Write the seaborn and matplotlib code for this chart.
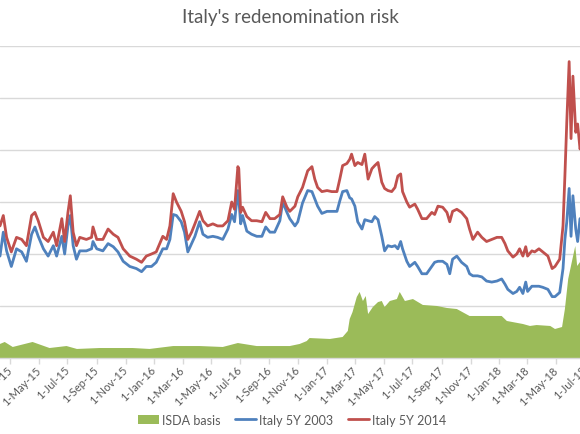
import matplotlib
matplotlib.use("Agg")
import matplotlib.pyplot as plt
import matplotlib.dates as mdates
from matplotlib.patches import Patch
from matplotlib.lines import Line2D
import pandas as pd
import seaborn as sns

# ---------------- data ----------------
line_dates = [
    "2015-02-08", "2015-02-15", "2015-02-22", "2015-03-04", "2015-03-15", "2015-03-26",
    "2015-04-05", "2015-04-16", "2015-04-23", "2015-04-30", "2015-05-11", "2015-05-21",
    "2015-06-01", "2015-06-08", "2015-06-19", "2015-06-25", "2015-07-02", "2015-07-07",
    "2015-07-13", "2015-07-20", "2015-07-27", "2015-08-10", "2015-08-21", "2015-08-24",
    "2015-09-01", "2015-09-14", "2015-09-25", "2015-10-06", "2015-10-16", "2015-10-27",
    "2015-11-10", "2015-11-24", "2015-12-05", "2015-12-15", "2015-12-26", "2016-01-05",
    "2016-01-19", "2016-01-27", "2016-02-03", "2016-02-10", "2016-02-17", "2016-02-27",
    "2016-03-05", "2016-03-12", "2016-03-20", "2016-03-27", "2016-04-06", "2016-04-13",
    "2016-04-23", "2016-05-04", "2016-05-14", "2016-05-25", "2016-06-05", "2016-06-13",
    "2016-06-19", "2016-06-26", "2016-06-28", "2016-07-02", "2016-07-06", "2016-07-15",
    "2016-07-25", "2016-08-05", "2016-08-16", "2016-08-24", "2016-09-02", "2016-09-12",
    "2016-09-23", "2016-09-29", "2016-10-08", "2016-10-14", "2016-10-25", "2016-10-31",
    "2016-11-10", "2016-11-21", "2016-11-30", "2016-12-06", "2016-12-12", "2016-12-21",
    "2017-01-01", "2017-01-11", "2017-01-22", "2017-01-28", "2017-02-03", "2017-02-12",
    "2017-02-18", "2017-02-22", "2017-03-01", "2017-03-07", "2017-03-16", "2017-03-22",
    "2017-03-29", "2017-04-06", "2017-04-12", "2017-04-19", "2017-04-27", "2017-05-03",
    "2017-05-10", "2017-05-18", "2017-05-25", "2017-05-31", "2017-06-06", "2017-06-10",
    "2017-06-19", "2017-06-25", "2017-07-06", "2017-07-12", "2017-07-21", "2017-07-31",
    "2017-08-11", "2017-08-17", "2017-08-24", "2017-09-03", "2017-09-12", "2017-09-18",
    "2017-09-24", "2017-10-03", "2017-10-13", "2017-10-24", "2017-10-30", "2017-11-06",
    "2017-11-16", "2017-11-25", "2017-12-05", "2017-12-16", "2017-12-27", "2018-01-06",
    "2018-01-13", "2018-01-19", "2018-01-30", "2018-02-07", "2018-02-13", "2018-02-20",
    "2018-02-26", "2018-03-02", "2018-03-11", "2018-03-17", "2018-03-26", "2018-04-03",
    "2018-04-14", "2018-04-23", "2018-04-29", "2018-05-09", "2018-05-16", "2018-05-20",
    "2018-05-24", "2018-05-29", "2018-06-02", "2018-06-06", "2018-06-12", "2018-06-16",
    "2018-06-21", "2018-06-27",
]

italy_5y_2014 = [
    127, 137, 116, 102, 116, 114,
    108, 137, 140, 132, 116, 112,
    121, 108, 134, 112, 140, 156,
    121, 108, 116, 114, 116, 126,
    114, 114, 124, 119, 116, 105,
    98, 95, 92, 98, 100, 102,
    117, 114, 127, 158, 150, 141,
    131, 114, 121, 129, 141, 132,
    127, 129, 127, 127, 132, 150,
    143, 184, 182, 140, 145, 136,
    132, 132, 131, 140, 134, 134,
    138, 155, 145, 141, 146, 155,
    164, 180, 184, 172, 164, 160,
    161, 160, 160, 172, 185, 187,
    191, 196, 185, 188, 186, 196,
    172, 182, 185, 188, 169, 163,
    161, 160, 164, 175, 177, 160,
    150, 145, 148, 143, 134, 134,
    140, 138, 146, 145, 140, 131,
    141, 143, 140, 134, 124, 114,
    121, 116, 112, 114, 116, 116,
    110, 103, 97, 100, 105, 98,
    107, 98, 103, 102, 105, 102,
    98, 86, 88, 95, 127, 175,
    227, 285, 211, 271, 217, 225,
    201, 210,
]

italy_5y_2003 = [
    98, 121, 103, 88, 105, 102,
    93, 119, 126, 117, 105, 98,
    108, 98, 117, 100, 127, 137,
    108, 95, 103, 103, 105, 112,
    105, 103, 110, 107, 102, 93,
    88, 86, 83, 88, 88, 92,
    105, 105, 114, 138, 137, 131,
    121, 102, 110, 117, 131, 119,
    116, 117, 116, 114, 124, 138,
    131, 161, 153, 129, 137, 122,
    119, 117, 117, 126, 121, 121,
    132, 150, 140, 134, 127, 131,
    149, 161, 160, 153, 146, 139,
    141, 141, 141, 151, 160, 161,
    154, 153, 146, 131, 124, 133,
    132, 131, 136, 133, 117, 103,
    108, 107, 108, 105, 112, 105,
    93, 88, 92, 88, 81, 81,
    88, 92, 93, 93, 90, 81,
    95, 98, 92, 88, 81, 79,
    79, 78, 74, 73, 74, 76,
    71, 66, 62, 64, 68, 62,
    73, 64, 69, 69, 69, 68,
    66, 59, 59, 63, 86, 114,
    131, 163, 117, 156, 124, 112,
    134, 129,
]

isda_dates = [
    "2015-02-08", "2015-02-18", "2015-03-07", "2015-04-18", "2015-05-24", "2015-06-29",
    "2015-07-21", "2015-09-07", "2015-11-16", "2015-12-22", "2016-02-10", "2016-04-06",
    "2016-05-25", "2016-06-26", "2016-08-05", "2016-10-14", "2016-11-04", "2016-11-19",
    "2016-11-25", "2017-01-07", "2017-02-03", "2017-02-14", "2017-02-18", "2017-02-24",
    "2017-03-05", "2017-03-11", "2017-03-18", "2017-03-24", "2017-03-29", "2017-04-08",
    "2017-04-19", "2017-04-27", "2017-05-03", "2017-05-14", "2017-05-29", "2017-06-04",
    "2017-06-15", "2017-07-02", "2017-07-23", "2017-08-22", "2017-09-12", "2017-10-03",
    "2017-10-30", "2017-11-27", "2018-01-06", "2018-01-17", "2018-02-20", "2018-03-07",
    "2018-03-21", "2018-04-19", "2018-04-29", "2018-05-14", "2018-05-20", "2018-05-27",
    "2018-06-05", "2018-06-11", "2018-06-15", "2018-06-21", "2018-06-27",
]

isda_basis = [
    13.5, 15.4, 10.6, 15.4, 9.6, 11.5,
    8.7, 9.6, 9.6, 8.7, 11.5, 11.5,
    10.6, 14.4, 11.5, 11.5, 13.5, 16.3,
    19.2, 18.3, 20.2, 26.0, 37.5, 44.2,
    58.7, 63.5, 54.8, 59.6, 42.3, 49.0,
    53.8, 54.8, 49.0, 54.8, 56.7, 63.5,
    54.8, 56.7, 51.0, 50.0, 48.1, 47.1,
    40.4, 40.4, 40.4, 35.6, 32.7, 30.8,
    31.7, 30.8, 27.9, 29.8, 47.1, 76.0,
    95.2, 107.7, 88.5, 92.3, 90.0,
]

series_names = ["ISDA basis", "Italy 5Y 2003", "Italy 5Y 2014"]
series_colors = ["#9BBB59", "#4F81BD", "#C0504D"]
title_text = "Italy's redenomination risk"

# ---------------- styling ----------------
sns.set_style("white")
plt.rcParams["font.family"] = ["Lato", "DejaVu Sans"]
text_color = "#595959"
grid_color = "#D9D9D9"

lines_df = pd.DataFrame({
    "date": pd.to_datetime(line_dates * 2),
    "value": italy_5y_2003 + italy_5y_2014,
    "series": [series_names[1]] * len(line_dates) + [series_names[2]] * len(line_dates),
})
isda_df = pd.DataFrame({"date": pd.to_datetime(isda_dates), "value": isda_basis})

# the reference is cropped on both sides; the axes extend slightly past the right edge
x_start = pd.Timestamp("2015-02-08")
x_edge = pd.Timestamp("2018-06-21")
x_end = pd.Timestamp("2018-07-04")
ax_width = (x_end - x_start).days / (x_edge - x_start).days

fig = plt.figure(figsize=(5.8, 4.35), dpi=100)
ax = fig.add_axes([0.0, 1 - 359 / 435, ax_width, (359 - 47) / 435])

ax.fill_between(isda_df["date"], 0, isda_df["value"], color=series_colors[0],
                linewidth=0, zorder=2)
sns.lineplot(data=lines_df, x="date", y="value", hue="series",
             hue_order=series_names[1:], palette=series_colors[1:],
             linewidth=2.0, legend=False, ax=ax, zorder=3)

ax.set_xlim(x_start, x_end)
ax.set_ylim(0, 300)
ax.set_yticks(range(0, 301, 50))
ax.tick_params(axis="y", left=False, labelleft=False)
ax.yaxis.grid(True, color=grid_color, linewidth=1.0, zorder=0)
ax.xaxis.grid(False)
ax.set_axisbelow(True)

ax.xaxis.set_major_locator(mdates.MonthLocator(bymonth=[1, 3, 5, 7, 9, 11], bymonthday=1))
ax.xaxis.set_major_formatter(mdates.DateFormatter("%-d-%b-%y"))
ax.tick_params(axis="x", bottom=True, length=4, width=1, color=grid_color,
               labelsize=8, labelcolor=text_color, pad=3)
for lbl in ax.get_xticklabels():
    lbl.set_rotation(45)
    lbl.set_ha("right")
    lbl.set_va("center")
    lbl.set_rotation_mode("anchor")

for side in ["left", "right", "top"]:
    ax.spines[side].set_visible(False)
ax.spines["bottom"].set_color(grid_color)
ax.spines["bottom"].set_linewidth(1.0)
ax.set_xlabel("")
ax.set_ylabel("")

fig.text(0.5, 1 - 18 / 435, title_text, ha="center", va="center",
         fontsize=13.5, color=text_color)

handles = [
    Patch(facecolor=series_colors[0], edgecolor="none"),
    Line2D([0], [0], color=series_colors[1], linewidth=2.0),
    Line2D([0], [0], color=series_colors[2], linewidth=2.0),
]
fig.legend(handles, series_names, loc="center", ncol=3, frameon=False,
           bbox_to_anchor=(292 / 580, 1 - 421 / 435), fontsize=9,
           labelcolor=text_color, handlelength=1.7, handleheight=0.8,
           handletextpad=0.2, columnspacing=1.2)

fig.savefig("out.png", dpi=100)
